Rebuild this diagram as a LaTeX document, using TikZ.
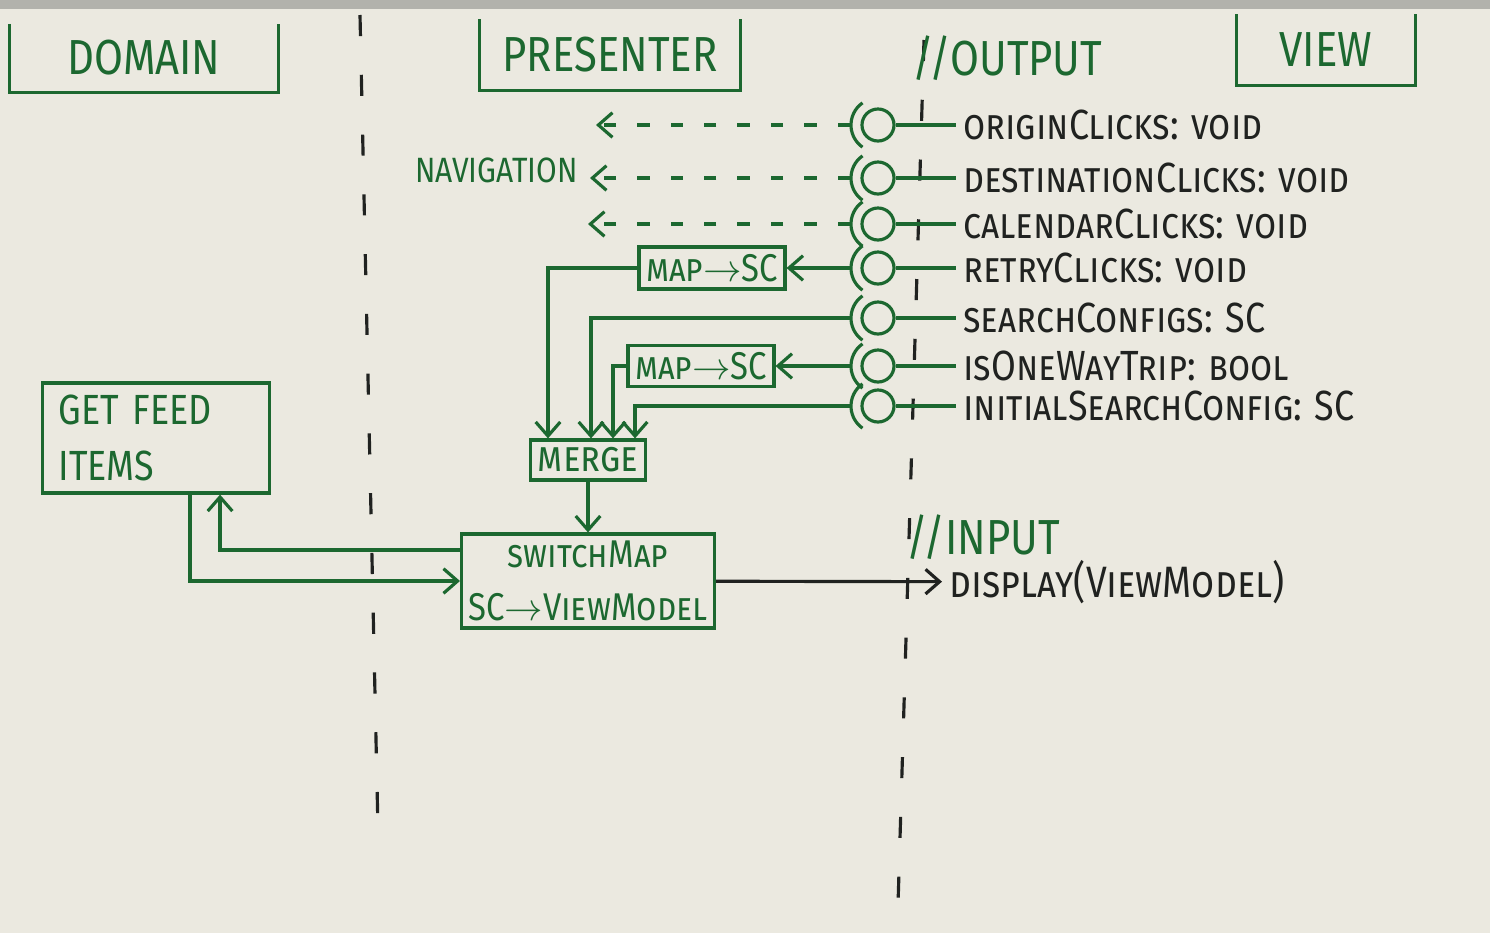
\documentclass[tikz,border=0pt]{standalone}
\usepackage{fontspec}
\setmainfont{Fira Sans}[FakeStretch=0.85]
\usepackage{tikz}
\usetikzlibrary{arrows.meta,positioning,calc}
\definecolor{board}{RGB}{235,233,224}
\definecolor{boardtop}{RGB}{178,178,172}
\definecolor{ink}{RGB}{28,104,48}
\definecolor{blk}{RGB}{32,34,32}

\begin{document}
\begin{tikzpicture}[x=0.01cm,y=-0.01cm,
   every node/.style={font=\fontsize{12}{14}\selectfont\scshape},
   ln/.style={draw=ink,line width=0.9pt},
   arr/.style={-{Straight Barb[length=4pt,width=7pt]}},
   dsh/.style={dash pattern=on 3.5pt off 6pt},
   lane/.style={draw=blk,line width=0.9pt,dash pattern=on 6pt off 11pt},
   hdr/.style={text=ink,font=\fontsize{14}{16}\selectfont,inner sep=0pt},
   box/.style={draw=ink,line width=0.9pt,text=ink,inner sep=2pt},
   ball/.style={circle,draw=ink,line width=0.9pt,minimum size=0.32cm,inner sep=0pt},
   lbl/.style={text=blk,inner sep=2pt,anchor=west}
]
% Board
\fill[board] (0,0) rectangle (1490,933);
\fill[boardtop] (0,0) rectangle (1490,9);
\useasboundingbox (0,0) rectangle (1490,933);

% Lanes
\coordinate (laA) at (360,15);
\coordinate (laB) at (378,830);
\coordinate (lbA) at (924,40);
\coordinate (lbB) at (898,905);
\draw[lane] (laA) -- (laB);
\draw[lane] (lbA) -- (lbB);

% Headers
\node[hdr,minimum width=2.68cm,minimum height=0.67cm] (dom) at (144,58) {DOMAIN};
\draw[ln] (dom.north west) |- (dom.south east) -- (dom.north east);
\node[hdr,minimum width=2.6cm,minimum height=0.7cm] (pres) at (610,55) {PRESENTER};
\draw[ln] (pres.north west) |- (pres.south east) -- (pres.north east);
\node[hdr,minimum width=1.78cm,minimum height=0.7cm] (view) at (1326,50) {VIEW};
\draw[ln] (view.north west) |- (view.south east) -- (view.north east);
\node[hdr,anchor=west] (outp) at (912,58) {//OUTPUT};

% Output streams
\node[ball] (b1) at (878,125) {};
\node[lbl,right=0.6cm of b1] (l1) {originClicks: void};
\node[ball] (b2) at (878,178) {};
\node[lbl,right=0.6cm of b2] (l2) {destinationClicks: void};
\node[ball] (b3) at (878,224) {};
\node[lbl,right=0.6cm of b3] (l3) {calendarClicks: void};
\node[ball] (b4) at (878,268) {};
\node[lbl,right=0.6cm of b4] (l4) {retryClicks: void};
\node[ball] (b5) at (878,318) {};
\node[lbl,right=0.6cm of b5] (l5) {searchConfigs: SC};
\node[ball] (b6) at (878,366) {};
\node[lbl,right=0.6cm of b6] (l6) {isOneWayTrip: bool};
\node[ball] (b7) at (878,406) {};
\node[lbl,right=0.6cm of b7] (l7) {initialSearchConfig: SC};
\draw[ln] (b1) -- (l1);
\draw[ln] (b2) -- (l2);
\draw[ln] (b3) -- (l3);
\draw[ln] (b4) -- (l4);
\draw[ln] (b5) -- (l5);
\draw[ln] (b6) -- (l6);
\draw[ln] (b7) -- (l7);

% Sockets
\draw[ln] (b1) ++(125:0.27cm) arc[start angle=125,end angle=235,radius=0.27cm];
\draw[ln] (b2) ++(125:0.27cm) arc[start angle=125,end angle=235,radius=0.27cm];
\draw[ln] (b3) ++(125:0.27cm) arc[start angle=125,end angle=235,radius=0.27cm];
\draw[ln] (b4) ++(125:0.27cm) arc[start angle=125,end angle=235,radius=0.27cm];
\draw[ln] (b5) ++(125:0.27cm) arc[start angle=125,end angle=235,radius=0.27cm];
\draw[ln] (b6) ++(125:0.27cm) arc[start angle=125,end angle=235,radius=0.27cm];
\draw[ln] (b7) ++(125:0.27cm) arc[start angle=125,end angle=235,radius=0.27cm];
\coordinate (s1) at ([xshift=-0.28cm]b1.center);
\coordinate (s2) at ([xshift=-0.28cm]b2.center);
\coordinate (s3) at ([xshift=-0.28cm]b3.center);
\coordinate (s4) at ([xshift=-0.28cm]b4.center);
\coordinate (s5) at ([xshift=-0.28cm]b5.center);
\coordinate (s6) at ([xshift=-0.28cm]b6.center);
\coordinate (s7) at ([xshift=-0.28cm]b7.center);

% Navigation
\node[text=ink,font=\fontsize{10}{12}\selectfont,anchor=east] (nav) at (590,170) {NAVIGATION};
\coordinate (n1) at (596,125);
\coordinate (n3) at (588,224);
\draw[ln,dsh,arr] (s1) -- (n1);
\draw[ln,dsh,arr] (s2) -- (s2 -| nav.east);
\draw[ln,dsh,arr] (s3) -- (n3);

% Map and merge
\node[box,minimum width=1.2cm,minimum height=0.42cm,font=\fontsize{11}{13}\selectfont\scshape]
   (m1) at (712,268) {map$\rightarrow$SC};
\node[box,minimum width=1.07cm,minimum height=0.38cm,font=\fontsize{11}{13}\selectfont\scshape]
   (m2) at (701,366) {map$\rightarrow$SC};
\node[box,minimum width=1.15cm,minimum height=0.4cm] (mrg) at (588,460) {merge};
\draw[ln,arr] (s4) -- (m1);
\draw[ln,arr] (s6) -- (m2);
\draw[ln,arr] (m1) -| ([xshift=-0.4cm]mrg.north);
\draw[ln,arr] (s5) -| ([xshift=0.03cm]mrg.north);
\draw[ln,arr] (m2) -| ([xshift=0.25cm]mrg.north);
\draw[ln,arr] (s7) -| ([xshift=0.47cm]mrg.north);

% SwitchMap
\node[box,align=center,minimum width=2.47cm,minimum height=0.93cm,
      font=\fontsize{11}{15}\selectfont\scshape] (sw) at (588,581)
   {switchMap\\SC$\rightarrow$ViewModel};
\draw[ln,arr] (mrg) -- (sw);

% Input
\node[hdr,anchor=west] (inp) at (906,537) {//INPUT};
\node[lbl,font=\fontsize{12.5}{14}\selectfont\scshape] (disp) at (942,582) {display(ViewModel)};
\draw[ln,draw=blk,arr] (sw) -- (disp);

% Domain
\node[box,align=left,font=\fontsize{12}{16}\selectfont,minimum width=2.27cm,minimum height=1.1cm,
      text width=1.95cm] (gfi) at (156,438) {GET FEED\\ITEMS};
\draw[ln,arr] ([yshift=0.31cm]sw.west) -| ([xshift=0.64cm]gfi.south);
\draw[ln,arr] ([xshift=0.34cm]gfi.south) |- (sw.west);
\end{tikzpicture}
\end{document}
